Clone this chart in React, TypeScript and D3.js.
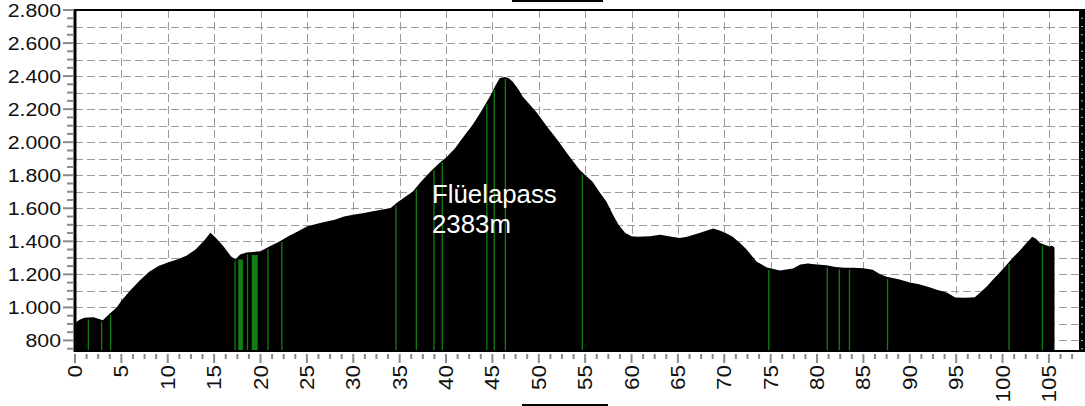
import React, { useRef, useEffect } from 'react';
import * as d3 from 'd3';

// elevation profile: distance (km) and height (m)
const profileKm = [
  0, 0.5, 1, 2, 2.6, 3, 3.5, 4, 4.5, 5, 6, 7, 8, 9, 10, 11, 12, 13, 14, 14.6, 15.2, 16, 16.8, 17.3, 17.8,
  18.5, 20, 21, 22, 23, 24, 25, 26, 27, 28, 29, 30, 31, 32, 33, 34, 34.7, 35.5, 36.4, 37.3, 38.3, 39.2,
  40.1, 41, 41.8, 42.8, 43.7, 44.7, 45.3, 45.8, 46.4, 46.8, 47.2, 47.8, 48.3, 49, 49.8, 50.9, 52, 53,
  54.4, 55.2, 55.8, 56.6, 57.3, 58, 58.6, 59.3, 60, 60.6, 62, 63.1, 64, 65.2, 66, 67.4, 68.8, 69.5, 70.2,
  70.9, 71.7, 72.4, 73.5, 74.6, 76, 77.4, 78.2, 79, 80, 81, 82, 83, 84, 85, 86, 86.8, 87.5, 88.9, 90, 91,
  92.2, 93, 94, 94.9, 96, 97, 97.6, 98.3, 99, 99.7, 100.4, 101.1, 101.8, 102.6, 103.2, 103.6, 104,
  104.6, 105.1, 105.3, 105.6,
];
const profileElev = [
  905, 925, 938, 940, 930, 922, 950, 975, 1000, 1040, 1105, 1165, 1215, 1250, 1272, 1290, 1312, 1350,
  1410, 1452, 1420, 1370, 1310, 1290, 1320, 1332, 1340, 1370, 1398, 1430, 1459, 1490, 1505, 1519, 1530,
  1550, 1561, 1570, 1580, 1591, 1600, 1634, 1665, 1700, 1760, 1821, 1870, 1912, 1965, 2027, 2100, 2178,
  2274, 2340, 2389, 2395, 2385, 2365, 2320, 2274, 2230, 2178, 2093, 2014, 1936, 1833, 1791, 1760, 1694,
  1640, 1560, 1500, 1452, 1430, 1428, 1430, 1440, 1430, 1420, 1428, 1452, 1477, 1465, 1448, 1428, 1390,
  1350, 1277, 1241, 1223, 1235, 1259, 1265, 1260, 1255, 1245, 1240, 1240, 1237, 1228, 1200, 1185, 1169,
  1150, 1140, 1120, 1105, 1090, 1060, 1058, 1062, 1090, 1127, 1170, 1211, 1255, 1301, 1340, 1392, 1428,
  1415, 1392, 1378, 1368, 1374, 1362,
];

// green markers (km) and wider green bands [from, to]
const markerKm = [
  1.44, 2.87, 3.84, 17.25, 18.6, 20.8, 22.3, 34.6, 36.8, 38.7, 39.6, 44.4, 45.2, 46.4, 54.7, 74.8, 81.1,
  82.4, 83.5, 87.6, 100.7, 104.3,
];
const markerBands = [[17.6, 18.1], [19.05, 19.7]];

const xLabels = ['0', '5', '10', '15', '20', '25', '30', '35', '40', '45', '50', '55', '60', '65', '70', '75', '80', '85', '90', '95', '100', '105'];
const yLabels = ['800', '1.000', '1.200', '1.400', '1.600', '1.800', '2.000', '2.200', '2.400', '2.600', '2.800'];
const yValues = [800, 1000, 1200, 1400, 1600, 1800, 2000, 2200, 2400, 2600, 2800];

const passName = 'Flüelapass';
const passHeight = '2383m';

const W = 1085;
const H = 406;
const FONT = '"Liberation Sans", Arial, sans-serif';

const App: React.FC = () => {
  const svgRef = useRef<SVGSVGElement | null>(null);

  useEffect(() => {
    const svg = d3.select(svgRef.current);
    svg.selectAll('*').remove();

    const left = 75, right = 1080, top = 10, bottom = 352;
    const x = d3.scaleLinear().domain([0, 108.35]).range([left, right]);
    const y = d3.scaleLinear().domain([730, 2800]).range([bottom, top]);

    const data = profileKm.map((km, i) => ({ km, elev: profileElev[i] }));
    const elevAt = (km: number) => {
      const i = d3.bisector((d: { km: number }) => d.km).left(data, km);
      if (i <= 0) return data[0].elev;
      if (i >= data.length) return data[data.length - 1].elev;
      const a = data[i - 1], b = data[i];
      return a.elev + (b.elev - a.elev) * (km - a.km) / (b.km - a.km);
    };

    svg.append('rect').attr('width', W).attr('height', H).attr('fill', '#fff');

    // Grid
    const grid = svg.append('g').attr('stroke', '#9a9a9a').attr('stroke-width', 1).attr('stroke-dasharray', '8,4');
    d3.range(800, 2800, 100).forEach(v => {
      grid.append('line').attr('x1', left).attr('x2', right).attr('y1', Math.round(y(v)) + 0.5).attr('y2', Math.round(y(v)) + 0.5);
    });
    d3.range(5, 108, 5).forEach(k => {
      grid.append('line').attr('x1', Math.round(x(k)) + 0.5).attr('x2', Math.round(x(k)) + 0.5).attr('y1', top).attr('y2', bottom);
    });

    // Profile
    const area = d3.area<{ km: number; elev: number }>()
      .x(d => x(d.km))
      .y0(bottom)
      .y1(d => y(d.elev));
    svg.append('path').datum(data).attr('d', area).attr('fill', '#000');

    // Green markers
    markerBands.forEach(([a, b]) => {
      const e = Math.min(elevAt(a), elevAt(b));
      svg.append('rect')
        .attr('x', x(a)).attr('width', x(b) - x(a))
        .attr('y', y(e) + 3).attr('height', bottom - y(e) - 3)
        .attr('fill', '#137f13');
    });
    markerKm.forEach(k => {
      svg.append('line')
        .attr('x1', x(k)).attr('x2', x(k))
        .attr('y1', y(elevAt(k)) + 2).attr('y2', bottom)
        .attr('stroke', '#137f13').attr('stroke-width', 1.3);
    });

    // Frame
    svg.append('line').attr('x1', left).attr('x2', right).attr('y1', top).attr('y2', top)
      .attr('stroke', '#000').attr('stroke-width', 2);
    svg.append('line').attr('x1', left).attr('x2', right).attr('y1', bottom - 1).attr('y2', bottom - 1)
      .attr('stroke', '#000').attr('stroke-width', 2);
    svg.append('line').attr('x1', left).attr('x2', left).attr('y1', top - 1).attr('y2', bottom)
      .attr('stroke', '#000').attr('stroke-width', 3);
    svg.append('rect').attr('x', right - 1).attr('y', top - 1).attr('width', W - right + 1).attr('height', bottom - top + 1)
      .attr('fill', '#000');
    d3.range(750, 2800, 50).forEach(v => {
      svg.append('line').attr('x1', right + 1).attr('x2', right + 3).attr('y1', y(v)).attr('y2', y(v))
        .attr('stroke', '#bbb').attr('stroke-width', 1);
    });

    // Y axis ticks
    const yt = svg.append('g').attr('stroke', '#8a8a8a').attr('stroke-width', 2);
    d3.range(750, 2801, 50).forEach(v => {
      const major = v % 200 === 0;
      yt.append('line').attr('x1', major ? 63 : 67).attr('x2', left - 1).attr('y1', y(v)).attr('y2', y(v));
    });
    yValues.forEach((v, i) => {
      svg.append('text')
        .attr('transform', `translate(61,${y(v) + 7}) scale(1.15,1)`)
        .attr('text-anchor', 'end')
        .attr('font-family', FONT)
        .attr('font-size', 18.5)
        .attr('fill', '#111')
        .text(yLabels[i]);
    });

    // X axis ticks
    const xt = svg.append('g').attr('stroke', '#8a8a8a').attr('stroke-width', 2);
    d3.range(0, 108.5, 1.25).forEach(k => {
      const major = Math.abs(k % 5) < 1e-6;
      xt.append('line').attr('x1', x(k)).attr('x2', x(k)).attr('y1', bottom + 2).attr('y2', major ? bottom + 11 : bottom + 7);
    });
    xLabels.forEach((lbl, i) => {
      svg.append('text')
        .attr('transform', `translate(${x(i * 5) + 7},${bottom + 13}) rotate(-90) scale(1.15,1)`)
        .attr('text-anchor', 'end')
        .attr('font-family', FONT)
        .attr('font-size', 19.5)
        .attr('fill', '#111')
        .text(lbl);
    });

    // Annotation
    const ann = svg.append('text')
      .attr('font-family', FONT)
      .attr('font-size', 25.8)
      .attr('fill', '#fff');
    ann.append('tspan').attr('x', 432).attr('y', 203).text(passName);
    ann.append('tspan').attr('x', 432).attr('y', 233).text(passHeight);

    // stray bars at the image edges
    svg.append('rect').attr('x', 512).attr('y', 0).attr('width', 91).attr('height', 2).attr('fill', '#000');
    svg.append('rect').attr('x', 522).attr('y', 404).attr('width', 86).attr('height', 2).attr('fill', '#000');
  }, []);

  return (
    <svg
      ref={svgRef}
      width={W}
      height={H}
      style={{ position: 'absolute', left: 0, top: 0, display: 'block' }}
    />
  );
};

export default App;
